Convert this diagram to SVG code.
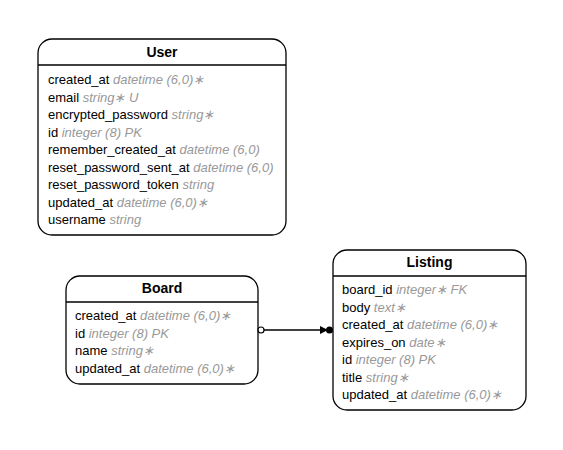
<svg xmlns="http://www.w3.org/2000/svg" width="563" height="450" viewBox="0 0 563 450">
<style>
.box{fill:#fff;stroke:#000;stroke-width:1.3}
.hl{stroke:#000;stroke-width:1.3}
.t{font-family:"Liberation Sans",Arial,sans-serif;font-size:14px;font-weight:bold;text-anchor:middle}
.f{font-family:"Liberation Sans",Arial,sans-serif;font-size:13px;fill:#000}
.g{fill:#999;font-style:italic}
.c{stroke:#000;stroke-width:1.3;fill:none}
</style>
<rect width="563" height="450" fill="#fff"/>
<g id="User">
<rect class="box" x="38" y="39" width="248" height="196" rx="14"/>
<line class="hl" x1="38" y1="65" x2="286" y2="65"/>
<text class="t" x="162" y="57">User</text>
<text class="f" x="48" y="84">created_at <tspan class="g">datetime (6,0)∗</tspan></text>
<text class="f" x="48" y="101.5">email <tspan class="g">string∗ U</tspan></text>
<text class="f" x="48" y="119">encrypted_password <tspan class="g">string∗</tspan></text>
<text class="f" x="48" y="136.5">id <tspan class="g">integer (8) PK</tspan></text>
<text class="f" x="48" y="154">remember_created_at <tspan class="g">datetime (6,0)</tspan></text>
<text class="f" x="48" y="171.5">reset_password_sent_at <tspan class="g">datetime (6,0)</tspan></text>
<text class="f" x="48" y="189">reset_password_token <tspan class="g">string</tspan></text>
<text class="f" x="48" y="206.5">updated_at <tspan class="g">datetime (6,0)∗</tspan></text>
<text class="f" x="48" y="224">username <tspan class="g">string</tspan></text>
</g>
<g id="Board">
<rect class="box" x="66" y="276" width="192" height="108" rx="14"/>
<line class="hl" x1="66" y1="302" x2="258" y2="302"/>
<text class="t" x="162" y="293">Board</text>
<text class="f" x="75" y="320">created_at <tspan class="g">datetime (6,0)∗</tspan></text>
<text class="f" x="75" y="337.5">id <tspan class="g">integer (8) PK</tspan></text>
<text class="f" x="75" y="355">name <tspan class="g">string∗</tspan></text>
<text class="f" x="75" y="372.5">updated_at <tspan class="g">datetime (6,0)∗</tspan></text>
</g>
<g id="Listing">
<rect class="box" x="333" y="250" width="193" height="160" rx="14"/>
<line class="hl" x1="333" y1="276" x2="526" y2="276"/>
<text class="t" x="429.5" y="267">Listing</text>
<text class="f" x="342" y="294">board_id <tspan class="g">integer∗ FK</tspan></text>
<text class="f" x="342" y="311.5">body <tspan class="g">text∗</tspan></text>
<text class="f" x="342" y="329">created_at <tspan class="g">datetime (6,0)∗</tspan></text>
<text class="f" x="342" y="346.5">expires_on <tspan class="g">date∗</tspan></text>
<text class="f" x="342" y="364">id <tspan class="g">integer (8) PK</tspan></text>
<text class="f" x="342" y="381.5">title <tspan class="g">string∗</tspan></text>
<text class="f" x="342" y="399">updated_at <tspan class="g">datetime (6,0)∗</tspan></text>
</g>
<g id="connectors">
<line class="c" x1="264" y1="330" x2="322" y2="330"/>
<circle cx="261" cy="330" r="3" fill="#fff" stroke="#000" stroke-width="1.2"/>
<polygon points="320,326 328,330 320,334" fill="#000"/>
<circle cx="329.5" cy="330" r="3.5" fill="#000"/>
</g>
</svg>
